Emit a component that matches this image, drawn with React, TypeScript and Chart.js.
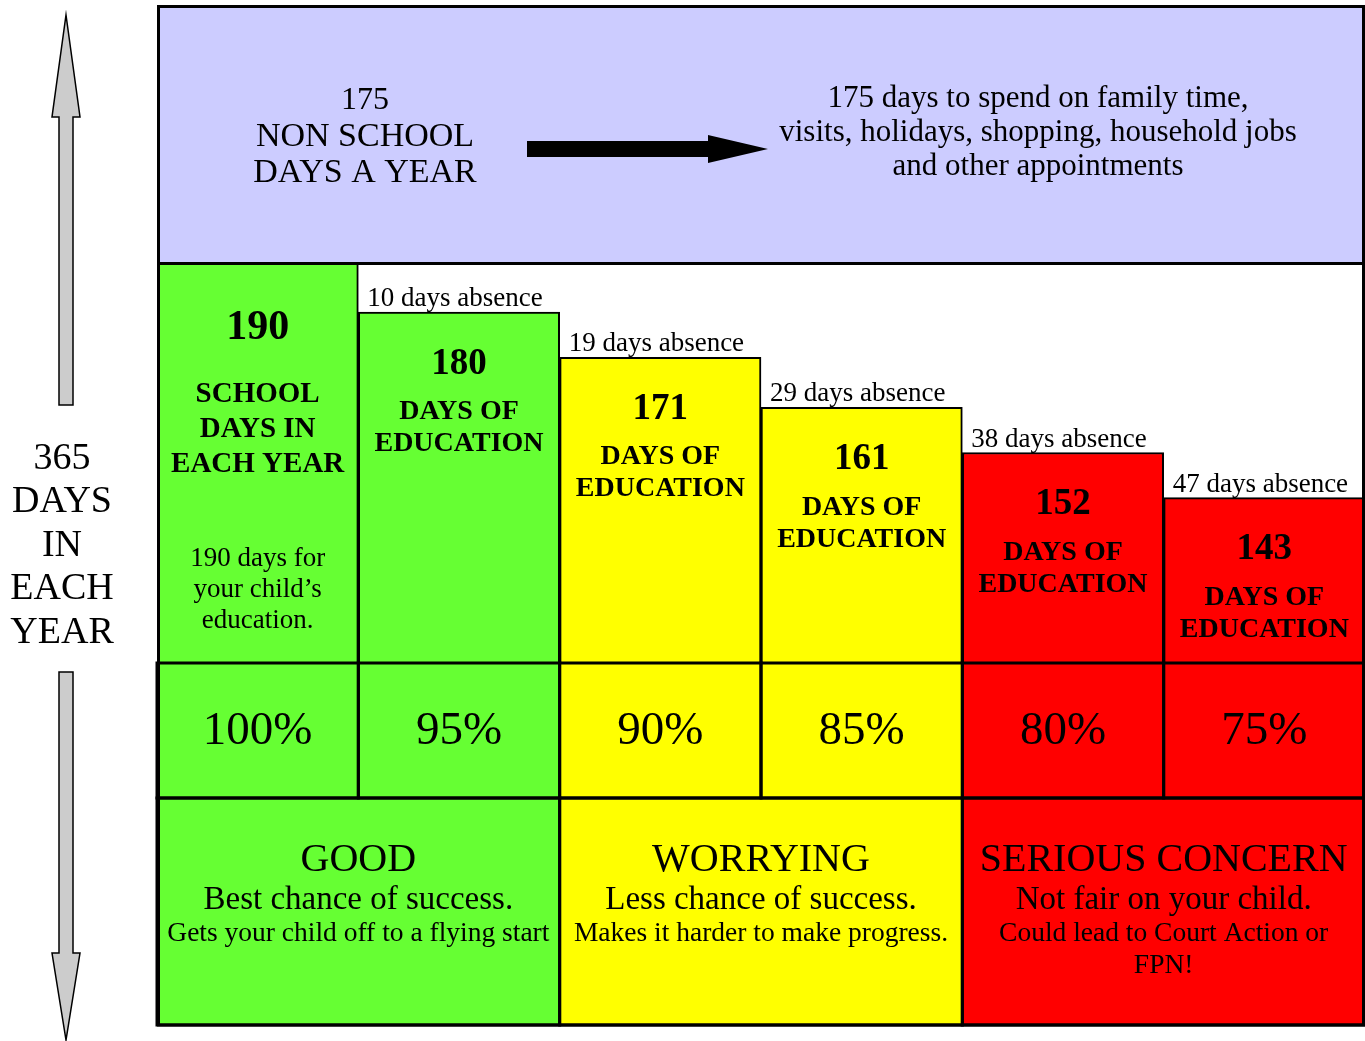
import React, { useEffect, useRef } from "react";
import { Chart, registerables } from "chart.js";

Chart.register(...registerables);

// ---------- data ----------
const attendanceLabels = ["100%", "95%", "90%", "85%", "80%", "75%"];
const educationDays = [190, 180, 171, 161, 152, 143];
const absenceLabels = ["", "10 days absence", "19 days absence", "29 days absence", "38 days absence", "47 days absence"];
const barColors = ["#66FF33", "#66FF33", "#FFFF00", "#FFFF00", "#FF0000", "#FF0000"];
const barLabelLines = ["DAYS OF", "EDUCATION"];
const firstBarTitle = ["SCHOOL", "DAYS IN", "EACH YEAR"];
const firstBarNote = ["190 days for", "your child\u2019s", "education."];
const nonSchoolLines = ["175", "NON SCHOOL", "DAYS A YEAR"];
const familyLines = [
  "175 days to spend on family time,",
  "visits, holidays, shopping, household jobs",
  "and other appointments",
];
const yearLines = ["365", "DAYS", "IN", "EACH", "YEAR"];
const bandTitles = ["GOOD", "WORRYING", "SERIOUS CONCERN"];
const bandSubtitles = ["Best chance of success.", "Less chance of success.", "Not fair on your child."];
const bandNotes = [
  ["Gets your child off to a flying start"],
  ["Makes it harder to make progress."],
  ["Could lead to Court Action or", "FPN!"],
];
const bandColors = ["#66FF33", "#FFFF00", "#FF0000"];
const topBoxColor = "#CCCCFF";
const arrowGray = "#CCCCCC";

const FONT = '"Liberation Serif", "Times New Roman", serif';

function txt(
  ctx: CanvasRenderingContext2D,
  s: string,
  x: number,
  y: number,
  size: number,
  bold = false,
  align: CanvasTextAlign = "center"
) {
  ctx.font = `${bold ? "bold " : ""}${size}px ${FONT}`;
  ctx.textAlign = align;
  ctx.textBaseline = "middle";
  ctx.fillStyle = "#000";
  ctx.fillText(s, x, y);
}

function poly(ctx: CanvasRenderingContext2D, pts: number[][], fill: string, stroke?: string, lw = 1.5) {
  ctx.beginPath();
  pts.forEach((p, i) => (i === 0 ? ctx.moveTo(p[0], p[1]) : ctx.lineTo(p[0], p[1])));
  ctx.closePath();
  ctx.fillStyle = fill;
  ctx.fill();
  if (stroke) {
    ctx.strokeStyle = stroke;
    ctx.lineWidth = lw;
    ctx.stroke();
  }
}

const TOP_Y = 5;
const PCT_BOTTOM = 798;
const BAND_BOTTOM = 1025;

const infographicPlugin = {
  id: "infographic",
  beforeDatasetsDraw(chart: any) {
    const ctx: CanvasRenderingContext2D = chart.ctx;
    const { left, right, top, bottom } = chart.chartArea;
    const xs = chart.scales.x;
    const colW = (right - left) / attendanceLabels.length;
    ctx.save();
    ctx.fillStyle = topBoxColor;
    ctx.fillRect(left, TOP_Y, right - left, top - TOP_Y);
    attendanceLabels.forEach((_, i) => {
      const cx = xs.getPixelForValue(i);
      ctx.fillStyle = barColors[i];
      ctx.fillRect(cx - colW / 2, bottom, colW, PCT_BOTTOM - bottom);
    });
    bandTitles.forEach((_, b) => {
      const x0 = xs.getPixelForValue(b * 2) - colW / 2;
      ctx.fillStyle = bandColors[b];
      ctx.fillRect(x0, PCT_BOTTOM, colW * 2, BAND_BOTTOM - PCT_BOTTOM);
    });
    ctx.restore();
  },
  afterDatasetsDraw(chart: any) {
    const ctx: CanvasRenderingContext2D = chart.ctx;
    const { left, right, top, bottom } = chart.chartArea;
    const xs = chart.scales.x;
    const ys = chart.scales.y;
    const colW = (right - left) / attendanceLabels.length;
    ctx.save();
    ctx.strokeStyle = "#000";
    ctx.lineWidth = 3;
    ctx.strokeRect(left + 1.5, TOP_Y + 1.5, right - left - 3, top - TOP_Y);
    attendanceLabels.forEach((_, i) => {
      const cx = xs.getPixelForValue(i);
      ctx.strokeRect(cx - colW / 2, bottom, colW, PCT_BOTTOM - bottom);
    });
    bandTitles.forEach((_, b) => {
      const x0 = xs.getPixelForValue(b * 2) - colW / 2;
      ctx.strokeRect(x0, PCT_BOTTOM, colW * 2, BAND_BOTTOM - PCT_BOTTOM);
    });
    ctx.strokeRect(left + 1.5, TOP_Y + 1.5, right - left - 3, BAND_BOTTOM - TOP_Y - 1.5);

    nonSchoolLines.forEach((s, i) => txt(ctx, s, 365, 101 + i * 36, i === 0 ? 32 : 34));
    familyLines.forEach((s, i) => txt(ctx, s, 1038, 99 + i * 34, 31));
    poly(ctx, [
      [527, 141], [708, 141], [708, 135], [768, 149], [708, 163], [708, 157], [527, 157],
    ], "#000");

    const meta = chart.getDatasetMeta(0);
    educationDays.forEach((v, i) => {
      const cx = xs.getPixelForValue(i);
      const yTop = ys.getPixelForValue(v);
      if (i === 0) {
        txt(ctx, String(v), cx, yTop + 66, 42, true);
        firstBarTitle.forEach((s, k) => txt(ctx, s, cx, yTop + 133 + k * 35, 29, true));
        firstBarNote.forEach((s, k) => txt(ctx, s, cx, bottom - 104 + k * 31, 27));
      } else {
        txt(ctx, String(v), cx, yTop + 52, 37, true);
        barLabelLines.forEach((s, k) => txt(ctx, s, cx, yTop + 100 + k * 32, 28, true));
        const el = meta.data[i];
        const barLeft = el ? el.x - el.width / 2 : cx - colW / 2;
        txt(ctx, absenceLabels[i], barLeft + 9, yTop - 13, 27, false, "left");
      }
    });

    attendanceLabels.forEach((s, i) => {
      txt(ctx, s, xs.getPixelForValue(i), (bottom + PCT_BOTTOM) / 2 + 1, 47);
    });

    bandTitles.forEach((t, b) => {
      const cx = xs.getPixelForValue(b * 2) + colW / 2;
      txt(ctx, t, cx, 860, 40);
      txt(ctx, bandSubtitles[b], cx, 900, 33);
      bandNotes[b].forEach((s, k) => txt(ctx, s, cx, 934 + k * 32, 27.5));
    });

    poly(ctx, [
      [66, 15], [80, 117], [73, 117], [73, 405], [59, 405], [59, 117], [52, 117],
    ], arrowGray, "#000", 1.5);
    poly(ctx, [
      [59, 672], [73, 672], [73, 953], [80, 953], [66, 1040], [52, 953], [59, 953],
    ], arrowGray, "#000", 1.5);
    yearLines.forEach((s, i) => txt(ctx, s, 62, 459 + i * 43.5, 38));
    ctx.restore();
  },
};

export default function App() {
  const ref = useRef<HTMLCanvasElement | null>(null);
  useEffect(() => {
    if (!ref.current) return;
    const chart = new Chart(ref.current, {
      type: "bar",
      data: {
        labels: attendanceLabels,
        datasets: [
          {
            label: "Days of education",
            data: educationDays,
            backgroundColor: barColors,
            borderColor: "#000",
            borderWidth: 2,
            borderSkipped: false,
            barPercentage: 1,
            categoryPercentage: 1,
          },
        ],
      },
      options: {
        responsive: false,
        animation: false,
        layout: { padding: { left: 157, right: 0, top: 262, bottom: 1041 - 663 } },
        plugins: { legend: { display: false }, tooltip: { enabled: false }, title: { display: false } },
        scales: {
          x: { display: false, grid: { display: false } },
          y: { display: false, min: 110, max: 190, grid: { display: false } },
        },
      },
      plugins: [infographicPlugin],
    });
    return () => chart.destroy();
  }, []);
  return (
    <div style={{ position: "absolute", left: 0, top: 0, width: 1365, height: 1041, background: "#fff" }}>
      <canvas ref={ref} width={1365} height={1041} style={{ display: "block" }} />
    </div>
  );
}
